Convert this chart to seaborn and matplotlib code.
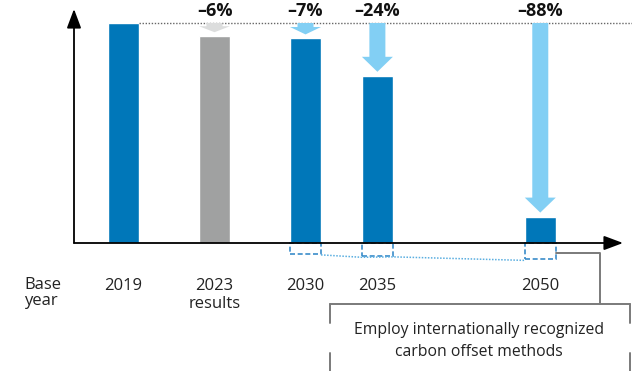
import matplotlib
matplotlib.use("Agg")
import matplotlib.pyplot as plt
from matplotlib.patches import FancyArrow, FancyArrowPatch, Rectangle
from matplotlib.lines import Line2D
from matplotlib.transforms import Affine2D
import pandas as pd
import seaborn as sns

# --- data -------------------------------------------------------------
years = ["2019", "2023", "2030", "2035", "2050"]
tick_labels = ["2019", "2023\nresults", "2030", "2035", "2050"]
kinds = ["Base", "Result", "Target", "Target", "Target"]
reductions = [0, 6, 7, 24, 88]            # % reduction vs. 2019
levels = [100 - r for r in reductions]    # emissions index, 2019 = 100
offset_depth = [0, 0, 5.0, 5.9, 7.3]      # share covered by carbon offsets
slot = [0, 1, 2, 2.79, 4.58]              # horizontal slot of each year

df = pd.DataFrame({"slot": slot, "level": levels, "kind": kinds})

# --- styling ----------------------------------------------------------
BLUE = "#0077b9"
GREY = "#a0a1a1"
ARROW_BLUE = "#82cff4"
ARROW_GREY = "#dcdddd"
palette = {"Base": BLUE, "Result": GREY, "Target": BLUE}
arrow_colors = {"Result": ARROW_GREY, "Target": ARROW_BLUE}

sns.set_theme(style="white")
plt.rcParams["font.family"] = ["Open Sans", "DejaVu Sans"]

W, H = 632, 371
fig = plt.figure(figsize=(W / 100, H / 100), dpi=100)
pix = Affine2D().scale(1 / W, -1 / H).translate(0, 1) + fig.transFigure

X0, Y0 = 74, 243           # axis origin in pixels
UX, UY = 91.0, 2.2         # pixels per slot, pixels per index point
ax = fig.add_axes([X0 / W, (H - Y0) / H, (W - X0) / W, Y0 / H])
ax.patch.set_alpha(0)

bar_w = 31 / UX
sns.barplot(data=df, x="slot", y="level", hue="kind", palette=palette,
            native_scale=True, width=bar_w / min(b - a for a, b in zip(slot, slot[1:])),
            saturation=1, dodge=False, errorbar=None, legend=False, ax=ax)

xmin = -49.5 / UX
ax.set_xlim(xmin, xmin + (W - X0) / UX)
ax.set_ylim(0, Y0 / UY)
for s in ax.spines.values():
    s.set_visible(False)
ax.set_yticks([])
ax.set_xticks(slot, tick_labels)
ax.tick_params(axis="x", length=0, pad=25, labelsize=12, colors="#222222")
ax.set_xlabel("")
ax.set_ylabel("")

# base-year reference line
ax.plot([slot[0] + bar_w / 2, ax.get_xlim()[1]], [100, 100], ls=(0, (1, 1.2)),
        color="#666666", lw=1, clip_on=False)

# reduction arrows and labels
gap = 4 / UY
for x, lvl, r, k in zip(slot, levels, reductions, kinds):
    if r == 0:
        continue
    tip = lvl + gap
    length = 100 - tip
    head = min(15 / UY, 0.65 * length)
    ax.add_patch(FancyArrow(x, 100, 0, -length, width=16 / UX, head_width=bar_w,
                            head_length=head, length_includes_head=True,
                            color=arrow_colors[k], lw=0, zorder=3))
    ax.annotate(f"\u2013{r}%", (x, 100), xytext=(0, 5), textcoords="offset points",
                ha="center", va="baseline", fontsize=13, fontweight="bold",
                color="#111111", annotation_clip=False)

# carbon-offset boxes below the axis
corners = []
for x, d in zip(slot, offset_depth):
    if d == 0:
        continue
    ax.add_patch(Rectangle((x - bar_w / 2, -d), bar_w, d, fill=False,
                           ls=(0, (3, 1.6)), ec="#3a8cca", lw=1.2, clip_on=False))
    corners.append((x, d))
cx, cy = [], []
for i, (x, d) in enumerate(corners):
    if i > 0:
        cx.append(x - bar_w / 2); cy.append(-d - 0.6)
    if i < len(corners) - 1:
        cx.append(x + bar_w / 2); cy.append(-d - 0.4)
ax.plot(cx, cy, ls=(0, (1, 1)), color="#5aaee0", lw=1.1, clip_on=False)

# axes with arrowheads
arrow_kw = dict(arrowstyle="-|>,head_length=0.8,head_width=0.3", color="black",
                lw=1.3, shrinkA=0, shrinkB=0, mutation_scale=14.5)
fig.add_artist(FancyArrowPatch((X0, Y0), (X0, 9), transform=pix, **arrow_kw))
fig.add_artist(FancyArrowPatch((X0, Y0), (623, Y0), transform=pix, **arrow_kw))

# callout connector and box
last_x, last_d = corners[-1]
sx, sy = ax.transData.transform((last_x + bar_w / 2, -last_d * 0.62))
sy = H - sy
line_kw = dict(color="#7a7a7a", lw=1.4, transform=pix)
fig.add_artist(Line2D([sx, 600, 600], [sy, sy, 304], **line_kw))
fig.add_artist(Line2D([330, 630], [304, 304], **line_kw))
for bx in (330, 630):
    fig.add_artist(Line2D([bx, bx], [304, 323], **line_kw))
    fig.add_artist(Line2D([bx, bx], [353, 372], **line_kw))
fig.text(479 / W, 1 - 341 / H,
         "Employ internationally recognized\ncarbon offset methods",
         ha="center", va="center", fontsize=11.3, linespacing=1.5, color="#222222")

fig.text(24 / W, 1 - 277 / H, "Base\nyear", ha="left", va="top",
         fontsize=12, linespacing=1.0, color="#222222")

fig.savefig("out.png", dpi=100)
